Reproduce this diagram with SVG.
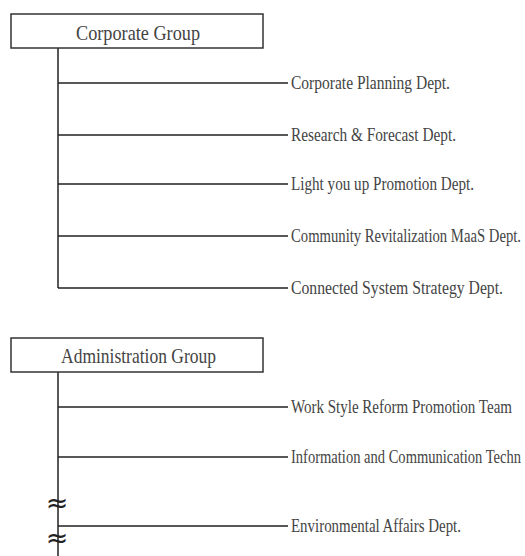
<svg xmlns="http://www.w3.org/2000/svg" width="525" height="556" viewBox="0 0 525 556">
<style>
.box{fill:#fff;stroke:#333;stroke-width:1.5}
.ln{stroke:#222;stroke-width:1.5;fill:none}
.t{font-family:"Liberation Serif",serif;font-size:16px;fill:#444}
.s{font-size:15px}
.h{font-family:"Liberation Serif",serif;font-size:17px;fill:#444}
.w{font-family:"DejaVu Sans",sans-serif;font-size:27px;fill:#222;text-anchor:middle}
</style>
<rect width="525" height="556" fill="#fff"/>
<g id="connectors">
<path class="ln" d="M58 48V288M58 83H288M58 135H288M58 184H288M58 236H288M58 288H288"/>
<path class="ln" d="M58 372V556M58 407H288M58 457H288M58 526H288"/>
</g>
<g id="corporate-group"><rect class="box" x="11" y="14" width="252" height="34"/><text class="h" transform="translate(76 40) scale(1 1.18)" textLength="124" lengthAdjust="spacingAndGlyphs">Corporate Group</text></g>
<g id="n1"><text class="t" transform="translate(291 89) scale(1 1.2)" textLength="159" lengthAdjust="spacingAndGlyphs">Corporate Planning Dept.</text></g>
<g id="n2"><text class="t" transform="translate(291 141) scale(1 1.2)" textLength="165" lengthAdjust="spacingAndGlyphs">Research &amp; Forecast Dept.</text></g>
<g id="n3"><text class="t" transform="translate(291 190) scale(1 1.2)" textLength="183" lengthAdjust="spacingAndGlyphs">Light you up Promotion Dept.</text></g>
<g id="n4"><text class="t s" transform="translate(291 242) scale(1 1.28)" textLength="230" lengthAdjust="spacingAndGlyphs">Community Revitalization MaaS Dept.</text></g>
<g id="n5"><text class="t" transform="translate(291 294) scale(1 1.2)" textLength="212" lengthAdjust="spacingAndGlyphs">Connected System Strategy Dept.</text></g>
<g id="administration-group"><rect class="box" x="11" y="338" width="252" height="34"/><text class="h" transform="translate(61 363) scale(1 1.18)" textLength="155" lengthAdjust="spacingAndGlyphs">Administration Group</text></g>
<g id="n6"><text class="t" transform="translate(291 413) scale(1 1.2)" textLength="221" lengthAdjust="spacingAndGlyphs">Work Style Reform Promotion Team</text></g>
<g id="n7"><text class="t s" transform="translate(291 463) scale(1 1.28)" textLength="230" lengthAdjust="spacingAndGlyphs">Information and Communication Techn</text></g>
<g id="n8"><text class="t" transform="translate(291 532) scale(1 1.2)" textLength="170" lengthAdjust="spacingAndGlyphs">Environmental Affairs Dept.</text></g>
<g id="breaks">
<text class="w" x="57" y="512">≈</text>
<text class="w" x="57" y="547">≈</text>
</g>
</svg>
